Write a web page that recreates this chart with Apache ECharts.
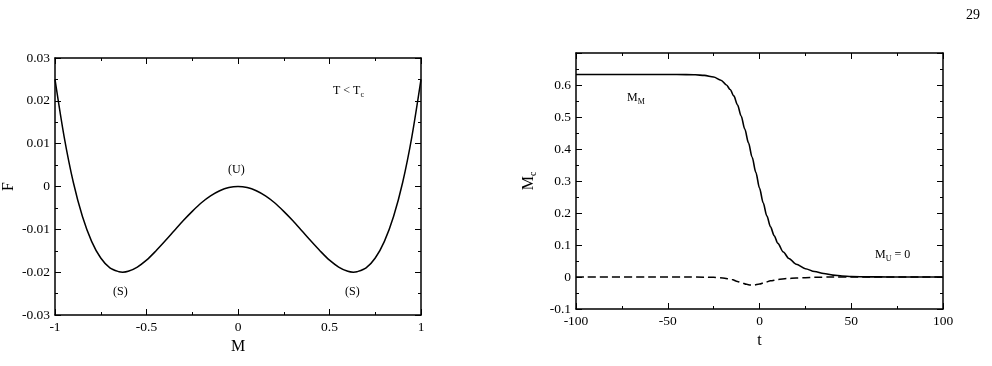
<!DOCTYPE html>
<html><head><meta charset="utf-8">
<script src="https://cdn.jsdelivr.net/npm/echarts@6/dist/echarts.min.js"></script>
<style>html,body{margin:0;padding:0;background:#fff}#c{width:992px;height:366px}</style>
</head><body><div id="c"></div>
<script>
// Left panel: free energy F vs M
const mValues = [-1, -0.95, -0.9, -0.85, -0.8, -0.75, -0.7, -0.65, -0.63, -0.6, -0.55, -0.5, -0.45, -0.4, -0.35, -0.3, -0.25, -0.2, -0.15, -0.1, -0.05, 0,
  0.05, 0.1, 0.15, 0.2, 0.25, 0.3, 0.35, 0.4, 0.45, 0.5, 0.55, 0.6, 0.63, 0.65, 0.7, 0.75, 0.8, 0.85, 0.9, 0.95, 1];
const fValues = [0.025, 0.0116, 0.001, -0.007, -0.0128, -0.0167, -0.019, -0.0199, -0.02, -0.0198, -0.0188, -0.0172, -0.0151, -0.0128, -0.0104, -0.008, -0.0058, -0.0038, -0.0022, -0.001, -0.00025, 0,
  -0.00025, -0.001, -0.0022, -0.0038, -0.0058, -0.008, -0.0104, -0.0128, -0.0151, -0.0172, -0.0188, -0.0198, -0.02, -0.0199, -0.019, -0.0167, -0.0128, -0.007, 0.001, 0.0116, 0.025];

// Right panel: M_c vs t
const tSolid = [-100, -80, -60, -45, -35, -30, -25, -21, -18, -16, -14, -12, -10, -8, -6, -4, -2, 0, 2, 4, 6, 8, 10, 13, 16, 20, 25, 30, 35, 40, 45, 50, 60, 70, 80, 100];
const mSolid = [0.633, 0.633, 0.633, 0.633, 0.632, 0.630, 0.625, 0.615, 0.600, 0.586, 0.566, 0.538, 0.503, 0.462, 0.419, 0.374, 0.327, 0.278, 0.232, 0.191, 0.157, 0.129, 0.105, 0.078, 0.058, 0.040, 0.026, 0.017, 0.011, 0.006, 0.003, 0.0015, 0.0005, 0, 0, 0];
const tDashed = [-100, -60, -40, -30, -25, -20, -15, -12, -10, -7, -5, -3, 0, 3, 6, 10, 15, 20, 25, 30, 40, 50, 100];
const mDashed = [0, 0, 0, -0.0005, -0.001, -0.003, -0.008, -0.014, -0.018, -0.023, -0.025, -0.025, -0.022, -0.017, -0.012, -0.008, -0.005, -0.003, -0.002, -0.001, 0, 0, 0];

const leftXTicks = {min: -1, max: 1, interval: 0.5};
const leftYTicks = {min: -0.03, max: 0.03, interval: 0.01};
const rightXTicks = {min: -100, max: 100, interval: 50};
const rightYTicks = {min: -0.1, max: 0.7, interval: 0.1};

const FONT = 'Liberation Serif';
const fmt = v => String(+v.toFixed(4));

function axis(kind, grid, pos, ticks, showLabels, extra) {
  return Object.assign({
    type: 'value', gridIndex: grid, position: pos,
    min: ticks.min, max: ticks.max, interval: ticks.interval,
    axisLine: {show: true, onZero: false, lineStyle: {color: '#000', width: 1.5}},
    axisTick: {show: true, inside: true, length: 6, lineStyle: {color: '#000', width: 1}},
    minorTick: {show: true, splitNumber: 2, length: 3, lineStyle: {color: '#000', width: 1}},
    splitLine: {show: false},
    axisLabel: {show: showLabels, color: '#000', fontFamily: FONT, fontSize: 13.5, margin: 5, formatter: fmt},
    nameTextStyle: {color: '#000', fontFamily: FONT, fontSize: 16}
  }, extra || {});
}

function pairs(xs, ys) { return xs.map((x, i) => [x, ys[i]]); }

const chart = echarts.init(document.getElementById('c'));
chart.setOption({
  backgroundColor: '#fff',
  animation: false,
  grid: [
    {left: 53, right: 571, top: 58, bottom: 51},
    {left: 576, right: 49, top: 53, bottom: 57}
  ],
  xAxis: [
    axis('x', 0, 'bottom', leftXTicks, true, {name: 'M', nameLocation: 'middle', nameGap: 21}),
    axis('x', 0, 'top', leftXTicks, false),
    axis('x', 1, 'bottom', rightXTicks, true, {name: 't', nameLocation: 'middle', nameGap: 20}),
    axis('x', 1, 'top', rightXTicks, false)
  ],
  yAxis: [
    axis('y', 0, 'left', leftYTicks, true, {name: 'F', nameLocation: 'middle', nameGap: 38}),
    axis('y', 0, 'right', leftYTicks, false),
    axis('y', 1, 'left', rightYTicks, true, {
      name: '{a|M}{b|c}', nameLocation: 'middle', nameGap: 38,
      nameTextStyle: {rich: {a: {fontFamily: FONT, fontSize: 16, color: '#000'}, b: {fontFamily: FONT, fontSize: 10, color: '#000', verticalAlign: 'bottom', padding: [8, 0, 0, 0]}}},
      axisLabel: {show: true, color: '#000', fontFamily: FONT, fontSize: 13.5, margin: 5, formatter: fmt, showMaxLabel: false}
    }),
    axis('y', 1, 'right', rightYTicks, false)
  ],
  series: [
    {type: 'line', xAxisIndex: 0, yAxisIndex: 0, data: pairs(mValues, fValues), smooth: 0.3, showSymbol: false,
     lineStyle: {color: '#000', width: 1.5}},
    {type: 'line', xAxisIndex: 2, yAxisIndex: 2, data: pairs(tSolid, mSolid), smooth: 0.3, smoothMonotone: 'x', showSymbol: false,
     lineStyle: {color: '#000', width: 1.6}},
    {type: 'line', xAxisIndex: 2, yAxisIndex: 2, data: pairs(tDashed, mDashed), smooth: 0.3, smoothMonotone: 'x', showSymbol: false,
     lineStyle: {color: '#000', width: 1.5, type: [8, 4]}}
  ],
  graphic: [
    {type: 'text', left: 966, top: 8, style: {text: '29', font: '14px "Liberation Serif"', fill: '#000'}},
    {type: 'text', left: 333, top: 85, style: {text: '{a|T < T}{b|c}', rich: {a: {font: '12px "Liberation Serif"', fill: '#000'}, b: {font: '8px "Liberation Serif"', fill: '#000', padding: [7, 0, 0, 0]}}}},
    {type: 'text', left: 228, top: 164, style: {text: '(U)', font: '12px "Liberation Serif"', fill: '#000'}},
    {type: 'text', left: 113, top: 286, style: {text: '(S)', font: '12px "Liberation Serif"', fill: '#000'}},
    {type: 'text', left: 345, top: 286, style: {text: '(S)', font: '12px "Liberation Serif"', fill: '#000'}},
    {type: 'text', left: 627, top: 92, style: {text: '{a|M}{b|M}', rich: {a: {font: '12px "Liberation Serif"', fill: '#000'}, b: {font: '8px "Liberation Serif"', fill: '#000', padding: [7, 0, 0, 0]}}}},
    {type: 'text', left: 875, top: 249, style: {text: '{a|M}{b|U}{a| = 0}', rich: {a: {font: '12px "Liberation Serif"', fill: '#000'}, b: {font: '8px "Liberation Serif"', fill: '#000', padding: [7, 0, 0, 0]}}}}
  ]
});
</script>
</body></html>
